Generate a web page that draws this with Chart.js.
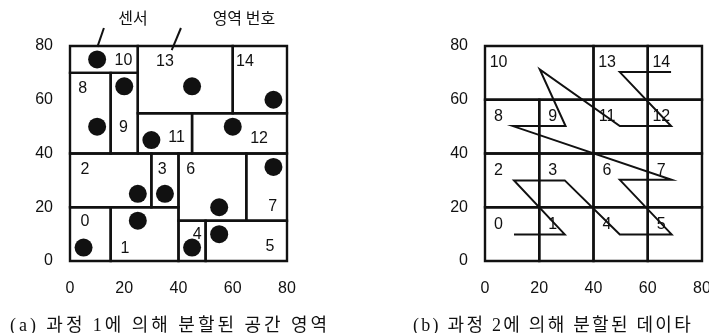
<!DOCTYPE html>
<html><head><meta charset="utf-8">
<script src="https://cdn.jsdelivr.net/npm/chart.js@4.4.1/dist/chart.umd.min.js"></script>
<style>
html,body{margin:0;padding:0;background:#fff;width:709px;height:333px;overflow:hidden;position:relative}
canvas{position:absolute;top:0}
#ca{left:0}
#cb{left:354px}
.cap{position:absolute;top:312px;font-family:"Liberation Serif","Noto Sans CJK KR",serif;font-size:18px;color:#111;white-space:nowrap;line-height:26px}
</style></head><body>
<canvas id="ca" width="354" height="333"></canvas>
<canvas id="cb" width="380" height="333"></canvas>
<div class="cap" id="capA" data-width="320" style="left:10px">(a) 과정 1에 의해 분할된 공간 영역</div>
<div class="cap" id="capB" data-width="280" style="left:413px">(b) 과정 2에 의해 분할된 데이타</div>
<script>
// shared axis ticks
const axisTicks = [0, 20, 40, 60, 80];

// (a) spatial regions, indexed by region number: [x0, y0, x1, y1]
const spaceRegions = [
  [0, 0, 15, 20],   // 0
  [15, 0, 40, 20],  // 1
  [0, 20, 30, 40],  // 2
  [30, 20, 40, 40], // 3
  [40, 0, 50, 15],  // 4
  [50, 0, 80, 15],  // 5
  [40, 15, 65, 40], // 6
  [65, 15, 80, 40], // 7
  [0, 40, 15, 70],  // 8
  [15, 40, 25, 70], // 9
  [0, 70, 25, 80],  // 10
  [25, 40, 45, 55], // 11
  [45, 40, 80, 55], // 12
  [25, 55, 60, 80], // 13
  [60, 55, 80, 80]  // 14
];
// where each region number is written
const regionLabelX = [5.5, 20.3, 5.5, 34, 46.9, 73.7, 44.5, 74.7, 4.7, 19.7, 19.7, 39.3, 69.7, 35, 64.5];
const regionLabelY = [14.6, 4.7, 33.9, 34.1, 10, 5.3, 34.1, 20.2, 64.3, 49.6, 74.6, 45.9, 45.6, 74.2, 74.2];
// one sensor per region
const sensorX = [5, 25, 25, 35, 45, 55, 55, 75, 10, 20, 10, 30, 60, 45, 75];
const sensorY = [5, 15, 25, 25, 5, 10, 20, 35, 50, 65, 75, 45, 50, 65, 60];
// callout captions above panel (a)
const calloutText = ['센서', '영역 번호'];
const calloutTextAt = [[23.2, 90.6], [64.1, 90.6]];
const calloutLine = [[[12.5, 86.7], [10.1, 79.7]], [[40.9, 86.7], [37.5, 78.5]]];

// (b) data cells, indexed by cell number: [x0, y0, x1, y1]
const dataCells = [
  [0, 0, 20, 20], [20, 0, 40, 20], [0, 20, 20, 40], [20, 20, 40, 40],
  [40, 0, 60, 20], [60, 0, 80, 20], [40, 20, 60, 40], [60, 20, 80, 40],
  [0, 40, 20, 60], [20, 40, 40, 60], [0, 60, 40, 80], [40, 40, 60, 60],
  [60, 40, 80, 60], [40, 60, 60, 80], [60, 60, 80, 80]
];
// visiting order through the cells (z-order path)
const orderX = [10.7, 29.4, 10.7, 29.4, 49.7, 68.8, 49.7, 68.8, 10.3, 29.7, 20.2, 49.7, 68.6, 49.7, 68.6];
const orderY = [9.9, 9.9, 30, 30, 9.9, 9.9, 30.2, 30.2, 50.2, 50.2, 71.3, 50.2, 50.2, 70.3, 70.3];

const INK = '#111';
Chart.defaults.font.family = '"Liberation Sans", Arial, sans-serif';
Chart.defaults.font.size = 16;
Chart.defaults.color = INK;

function outline(r) {
  return [
    {x: r[0], y: r[1]}, {x: r[2], y: r[1]}, {x: r[2], y: r[3]},
    {x: r[0], y: r[3]}, {x: r[0], y: r[1]}
  ];
}
function boxDatasets(rects) {
  return rects.map(r => ({
    data: outline(r), showLine: true, pointRadius: 0, borderColor: INK,
    borderWidth: 2.4, borderCapStyle: 'square', borderJoinStyle: 'miter',
    tension: 0, clip: false, order: 2
  }));
}
function axis(fitWidth, fitHeight) {
  return {
    type: 'linear', min: 0, max: 80,
    afterBuildTicks: s => { s.ticks = axisTicks.map(v => ({value: v})); },
    grid: {display: false, drawTicks: false},
    border: {display: false},
    ticks: {padding: fitWidth ? 17 : 18, color: INK, autoSkip: false, maxRotation: 0},
    afterFit: s => { if (fitWidth) s.width = fitWidth; if (fitHeight) s.height = fitHeight; }
  };
}
function labelPlugin(xs, ys, texts) {
  return {
    id: 'numberLabels',
    afterDatasetsDraw(chart) {
      const {ctx, scales: {x, y}} = chart;
      ctx.save();
      ctx.fillStyle = INK;
      ctx.font = '16px "Liberation Sans", Arial, sans-serif';
      ctx.textAlign = 'center';
      ctx.textBaseline = 'middle';
      texts.forEach((t, i) => ctx.fillText(t, x.getPixelForValue(xs[i]), y.getPixelForValue(ys[i])));
      ctx.restore();
    }
  };
}
const calloutPlugin = {
  id: 'callouts',
  afterDraw(chart) {
    const {ctx, scales: {x, y}} = chart;
    ctx.save();
    ctx.strokeStyle = INK;
    ctx.lineWidth = 2;
    calloutLine.forEach(seg => {
      ctx.beginPath();
      ctx.moveTo(x.getPixelForValue(seg[0][0]), y.getPixelForValue(seg[0][1]));
      ctx.lineTo(x.getPixelForValue(seg[1][0]), y.getPixelForValue(seg[1][1]));
      ctx.stroke();
    });
    ctx.fillStyle = INK;
    ctx.font = '16px "Noto Sans CJK KR", sans-serif';
    ctx.textAlign = 'center';
    ctx.textBaseline = 'middle';
    calloutText.forEach((t, i) => ctx.fillText(t, x.getPixelForValue(calloutTextAt[i][0]), y.getPixelForValue(calloutTextAt[i][1])));
    ctx.restore();
  }
};
const baseOptions = (pad) => ({
  responsive: false, animation: false, devicePixelRatio: 1, events: [],
  layout: {padding: pad},
  plugins: {legend: {display: false}, tooltip: {enabled: false}},
  scales: {x: axis(0, 40), y: axis(40, 0)}
});

// panel (a): partitioned space with sensors
new Chart(document.getElementById('ca'), {
  type: 'scatter',
  data: {
    datasets: boxDatasets(spaceRegions).concat([{
      data: sensorX.map((v, i) => ({x: v, y: sensorY[i]})),
      pointRadius: 9, pointBackgroundColor: INK, pointBorderWidth: 0,
      showLine: false, clip: false, order: 1
    }])
  },
  options: baseOptions({left: 30, right: 67, top: 46, bottom: 32}),
  plugins: [labelPlugin(regionLabelX, regionLabelY, spaceRegions.map((_, i) => String(i))), calloutPlugin]
});

// panel (b): data cells and their visiting order
new Chart(document.getElementById('cb'), {
  type: 'scatter',
  data: {
    datasets: boxDatasets(dataCells).concat([{
      data: orderX.map((v, i) => ({x: v, y: orderY[i]})),
      showLine: true, pointRadius: 0, borderColor: INK, borderWidth: 2,
      tension: 0, clip: false, order: 1
    }])
  },
  options: baseOptions({left: 91, right: 32, top: 46, bottom: 32}),
  plugins: [labelPlugin(dataCells.map(c => c[0] + 5), dataCells.map(c => c[3] - 6.3), dataCells.map((_, i) => String(i)))]
});

// spread each caption evenly across its line width
document.querySelectorAll('.cap').forEach(el => {
  const want = +el.dataset.width;
  const n = el.textContent.length;
  const have = el.getBoundingClientRect().width;
  el.style.letterSpacing = ((want - have) / n) + 'px';
});
</script>
</body></html>
